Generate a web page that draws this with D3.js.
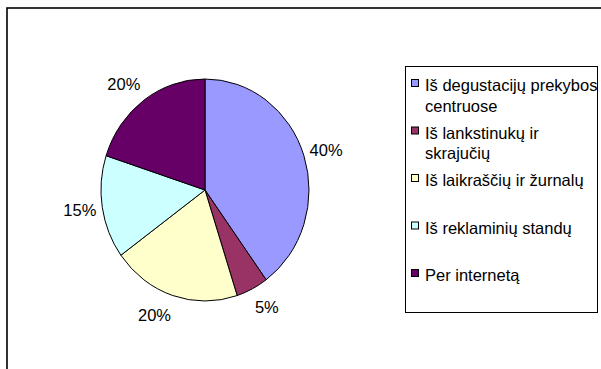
<!DOCTYPE html>
<html>
<head>
<meta charset="utf-8">
<script src="https://cdn.jsdelivr.net/npm/d3@7/dist/d3.min.js"></script>
<style>
  html, body { margin: 0; padding: 0; background: #fff; }
  svg { display: block; font-family: "Liberation Sans", Arial, sans-serif; }
</style>
</head>
<body>
<svg id="chart" width="601" height="369"></svg>
<script>
// Sources of information, share of respondents
const categories = [
  "Iš degustacijų prekybos centruose",
  "Iš lankstinukų ir skrajučių",
  "Iš laikraščių ir žurnalų",
  "Iš reklaminių standų",
  "Per internetą"
];
const values = [40, 5, 20, 15, 20];
const valueLabels = ["40%", "5%", "20%", "15%", "20%"];
const colors = ["#9999FF", "#993366", "#FFFFCC", "#CCFFFF", "#660066"];

const svg = d3.select("#chart");
const W = 601, H = 369;

// chart area frame
svg.append("rect")
  .attr("x", 7).attr("y", 8)
  .attr("width", W + 10).attr("height", H + 10)
  .attr("fill", "#fff")
  .attr("stroke", "#000")
  .attr("stroke-width", 1.6);

// pie (slightly elliptical plot area)
const cx = 205, cy = 190, rx = 104, ry = 111;

const pie = d3.pie().sort(null).value(d => d)(values);
const arc = d3.arc().innerRadius(0).outerRadius(ry);

const pieG = svg.append("g")
  .attr("transform", `translate(${cx},${cy}) scale(${rx / ry},1)`);

pieG.selectAll("path")
  .data(pie)
  .join("path")
  .attr("d", arc)
  .attr("fill", (d, i) => colors[i])
  .attr("stroke", "#000")
  .attr("stroke-width", 1)
  .attr("vector-effect", "non-scaling-stroke")
  .attr("stroke-linejoin", "round");

// percentage labels outside the slices
const fontSize = 16.5;
svg.append("g")
  .selectAll("text")
  .data(pie)
  .join("text")
  .attr("x", d => {
    const a = (d.startAngle + d.endAngle) / 2;
    return cx + (rx + 6) * Math.sin(a);
  })
  .attr("y", d => {
    const a = (d.startAngle + d.endAngle) / 2;
    return cy - (ry + 20) * Math.cos(a);
  })
  .attr("text-anchor", d => Math.sin((d.startAngle + d.endAngle) / 2) > 0 ? "start" : "end")
  .attr("dominant-baseline", "central")
  .attr("font-size", fontSize)
  .attr("fill", "#000")
  .text((d, i) => valueLabels[i]);

// legend
const lgX = 405.5, lgY = 66.5, lgW = 192, lgH = 246;
svg.append("rect")
  .attr("x", lgX).attr("y", lgY)
  .attr("width", lgW).attr("height", lgH)
  .attr("fill", "#fff")
  .attr("stroke", "#000")
  .attr("stroke-width", 1);

const itemY = d3.scaleLinear().domain([0, categories.length - 1]).range([91, 281]);
const textX = 425, maxTextW = 176, lineH = 20.5;

const items = svg.append("g")
  .selectAll("g")
  .data(categories)
  .join("g");

items.append("rect")
  .attr("x", 411.5)
  .attr("y", (d, i) => itemY(i) - 11.5)
  .attr("width", 7).attr("height", 7)
  .attr("fill", (d, i) => colors[i])
  .attr("stroke", "#000")
  .attr("stroke-width", 1);

items.append("text")
  .attr("x", textX)
  .attr("y", (d, i) => itemY(i))
  .attr("font-size", fontSize)
  .attr("fill", "#000")
  .each(function (d) {
    // wrap the label to the legend width
    const t = d3.select(this);
    const words = d.split(" ");
    let line = [];
    let lineNo = 0;
    let tspan = t.append("tspan").attr("x", textX).attr("dy", 0);
    for (const w of words) {
      line.push(w);
      tspan.text(line.join(" "));
      if (tspan.node().getComputedTextLength() > maxTextW && line.length > 1) {
        line.pop();
        tspan.text(line.join(" "));
        line = [w];
        lineNo++;
        tspan = t.append("tspan").attr("x", textX).attr("dy", lineH).text(w);
      }
    }
  });
</script>
</body>
</html>
